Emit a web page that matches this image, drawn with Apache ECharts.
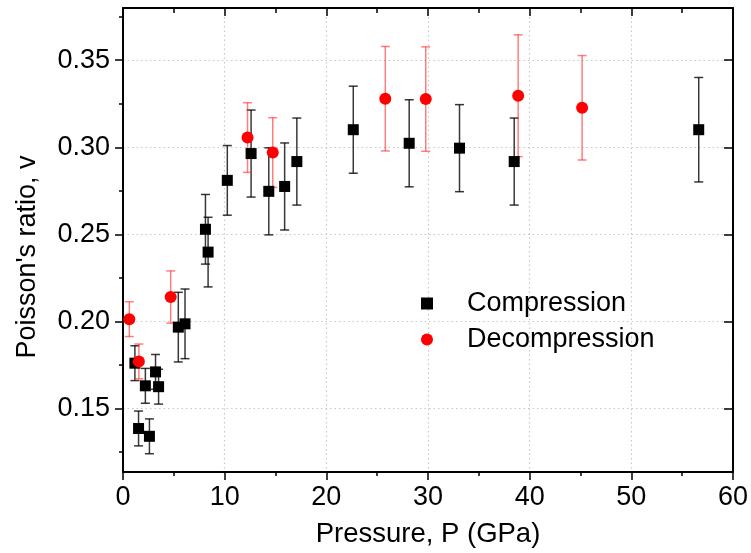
<!DOCTYPE html>
<html>
<head>
<meta charset="utf-8">
<script src="https://cdn.jsdelivr.net/npm/echarts@6/dist/echarts.min.js"></script>
<style>
html,body{margin:0;padding:0;background:#fff;}
#chart{width:751px;height:553px;}
</style>
</head>
<body>
<div id="chart"></div>
<script>
// Compression data
const compPressure = [1.17, 1.53, 2.2, 2.6, 3.2, 3.5, 5.44, 6.1, 8.11, 8.37, 10.26, 12.6, 14.34, 15.9, 17.1, 22.65, 28.15, 33.1, 38.48, 56.63];
const compRatio    = [0.176, 0.1385, 0.163, 0.134, 0.171, 0.1625, 0.1967, 0.1986, 0.2529, 0.2398, 0.281, 0.2964, 0.2747, 0.2775, 0.2918, 0.3101, 0.3023, 0.2995, 0.2918, 0.3101];
const compError    = [0.01, 0.01, 0.01, 0.01, 0.01, 0.01, 0.02, 0.02, 0.02, 0.02, 0.02, 0.025, 0.025, 0.025, 0.025, 0.025, 0.025, 0.025, 0.025, 0.03];
// Decompression data
const decPressure = [0.62, 1.56, 4.69, 12.25, 14.73, 25.8, 29.78, 38.87, 45.16];
const decRatio    = [0.2013, 0.177, 0.214, 0.3056, 0.297, 0.3279, 0.3277, 0.3296, 0.3227];
const decError    = [0.01, 0.01, 0.015, 0.02, 0.02, 0.03, 0.03, 0.035, 0.03];
// Tick values
const yMajorTicks = [0.15, 0.20, 0.25, 0.30, 0.35];
const yMinorTicks = [0.125, 0.175, 0.225, 0.275, 0.325, 0.375];

const FONT = 'Liberation Sans, Arial, sans-serif';

function pts(xs, ys) { return xs.map((x, i) => [x, ys[i]]); }
function errs(xs, ys, es) { return xs.map((x, i) => [x, ys[i] - es[i], ys[i] + es[i]]); }

function errRender(color) {
  return function (params, api) {
    const x = api.value(0);
    const lo = api.coord([x, api.value(1)]);
    const hi = api.coord([x, api.value(2)]);
    const hw = 4.5;
    const style = { stroke: color, lineWidth: 1.5, fill: null };
    return {
      type: 'group',
      children: [
        { type: 'line', shape: { x1: lo[0], y1: lo[1], x2: hi[0], y2: hi[1] }, style: style },
        { type: 'line', shape: { x1: lo[0] - hw, y1: lo[1], x2: lo[0] + hw, y2: lo[1] }, style: style },
        { type: 'line', shape: { x1: hi[0] - hw, y1: hi[1], x2: hi[0] + hw, y2: hi[1] }, style: style }
      ]
    };
  };
}

const yMin = 0.1135, yMax = 0.380;
const axisLineStyle = { color: '#000', width: 2 };

const chart = echarts.init(document.getElementById('chart'), null, { renderer: 'canvas' });
chart.setOption({
  animation: false,
  backgroundColor: '#fff',
  grid: { left: 123, right: 14, top: 8, bottom: 78.5, containLabel: false },
  xAxis: [
    {
      type: 'value', position: 'bottom', min: 0, max: 60, interval: 10,
      name: 'Pressure, P (GPa)', nameLocation: 'middle', nameGap: 48,
      nameTextStyle: { fontFamily: FONT, fontSize: 27.5, color: '#000' },
      axisLine: { show: true, onZero: false, lineStyle: axisLineStyle },
      axisTick: { show: true, inside: false, length: 8, lineStyle: { color: '#000', width: 1.5 } },
      minorTick: { show: true, splitNumber: 2, length: 4, lineStyle: { color: '#000', width: 1.5 } },
      axisLabel: { fontFamily: FONT, fontSize: 27, color: '#000', margin: 12 },
      splitLine: { show: true, lineStyle: { color: '#c8c8c8', type: [1.5, 3], width: 1.2 } }
    },
    {
      type: 'value', position: 'top', min: 0, max: 60, interval: 10,
      axisLine: { show: true, onZero: false, lineStyle: axisLineStyle },
      axisTick: { show: true, inside: true, length: 8, lineStyle: { color: '#000', width: 1.5 } },
      minorTick: { show: true, splitNumber: 2, length: 5, lineStyle: { color: '#000', width: 1.5 } },
      axisLabel: { show: false },
      splitLine: { show: false }
    }
  ],
  yAxis: [
    {
      type: 'value', position: 'left', min: yMin, max: yMax,
      name: "Poisson's ratio, v", nameLocation: 'middle', nameGap: 82, nameRotate: 90,
      nameTextStyle: { fontFamily: FONT, fontSize: 27, color: '#000', padding: [0, 34, 0, 0] },
      axisLine: { show: true, onZero: false, lineStyle: axisLineStyle },
      axisTick: { show: true, inside: false, length: 8, customValues: yMajorTicks, lineStyle: { color: '#000', width: 1.5 } },
      axisLabel: { fontFamily: FONT, fontSize: 27, color: '#000', margin: 13, customValues: yMajorTicks,
        formatter: v => v.toFixed(2) },
      splitLine: { show: true, lineStyle: { color: '#c8c8c8', type: [1.5, 3], width: 1.2 } }
    },
    {
      type: 'value', position: 'left', min: yMin, max: yMax,
      axisLine: { show: false },
      axisTick: { show: true, inside: false, length: 4, customValues: yMinorTicks, lineStyle: { color: '#000', width: 1.5 } },
      axisLabel: { show: false, customValues: yMinorTicks },
      splitLine: { show: false }
    },
    {
      type: 'value', position: 'right', min: yMin, max: yMax,
      axisLine: { show: true, onZero: false, lineStyle: axisLineStyle },
      axisTick: { show: true, inside: true, length: 9, customValues: yMajorTicks, lineStyle: { color: '#000', width: 1.5 } },
      axisLabel: { show: false, customValues: yMajorTicks },
      splitLine: { show: false }
    },
    {
      type: 'value', position: 'right', min: yMin, max: yMax,
      axisLine: { show: false },
      axisTick: { show: true, inside: true, length: 4, customValues: yMinorTicks, lineStyle: { color: '#000', width: 1.5 } },
      axisLabel: { show: false, customValues: yMinorTicks },
      splitLine: { show: false }
    }
  ],
  legend: {
    orient: 'vertical', left: 416, top: 285,
    itemWidth: 12, itemHeight: 12, itemGap: 9,
    textStyle: { fontFamily: FONT, fontSize: 27, color: '#000', lineHeight: 26, padding: [0, 0, 0, 29] },
    data: ['Compression', 'Decompression']
  },
  series: [
    {
      type: 'custom', name: 'compErr', xAxisIndex: 0, yAxisIndex: 0, z: 2,
      renderItem: errRender('rgba(0,0,0,0.78)'),
      data: errs(compPressure, compRatio, compError), encode: { x: 0, y: [1, 2] }, silent: true
    },
    {
      type: 'custom', name: 'decErr', xAxisIndex: 0, yAxisIndex: 0, z: 2,
      renderItem: errRender('rgba(255,40,40,0.6)'),
      data: errs(decPressure, decRatio, decError), encode: { x: 0, y: [1, 2] }, silent: true
    },
    {
      type: 'scatter', name: 'Compression', xAxisIndex: 0, yAxisIndex: 0, z: 5,
      symbol: 'rect', symbolSize: 11,
      itemStyle: { color: '#000', opacity: 1 },
      data: pts(compPressure, compRatio)
    },
    {
      type: 'scatter', name: 'Decompression', xAxisIndex: 0, yAxisIndex: 0, z: 5,
      symbol: 'circle', symbolSize: 12,
      itemStyle: { color: '#ff0000', opacity: 1 },
      data: pts(decPressure, decRatio)
    }
  ]
});
</script>
</body>
</html>
